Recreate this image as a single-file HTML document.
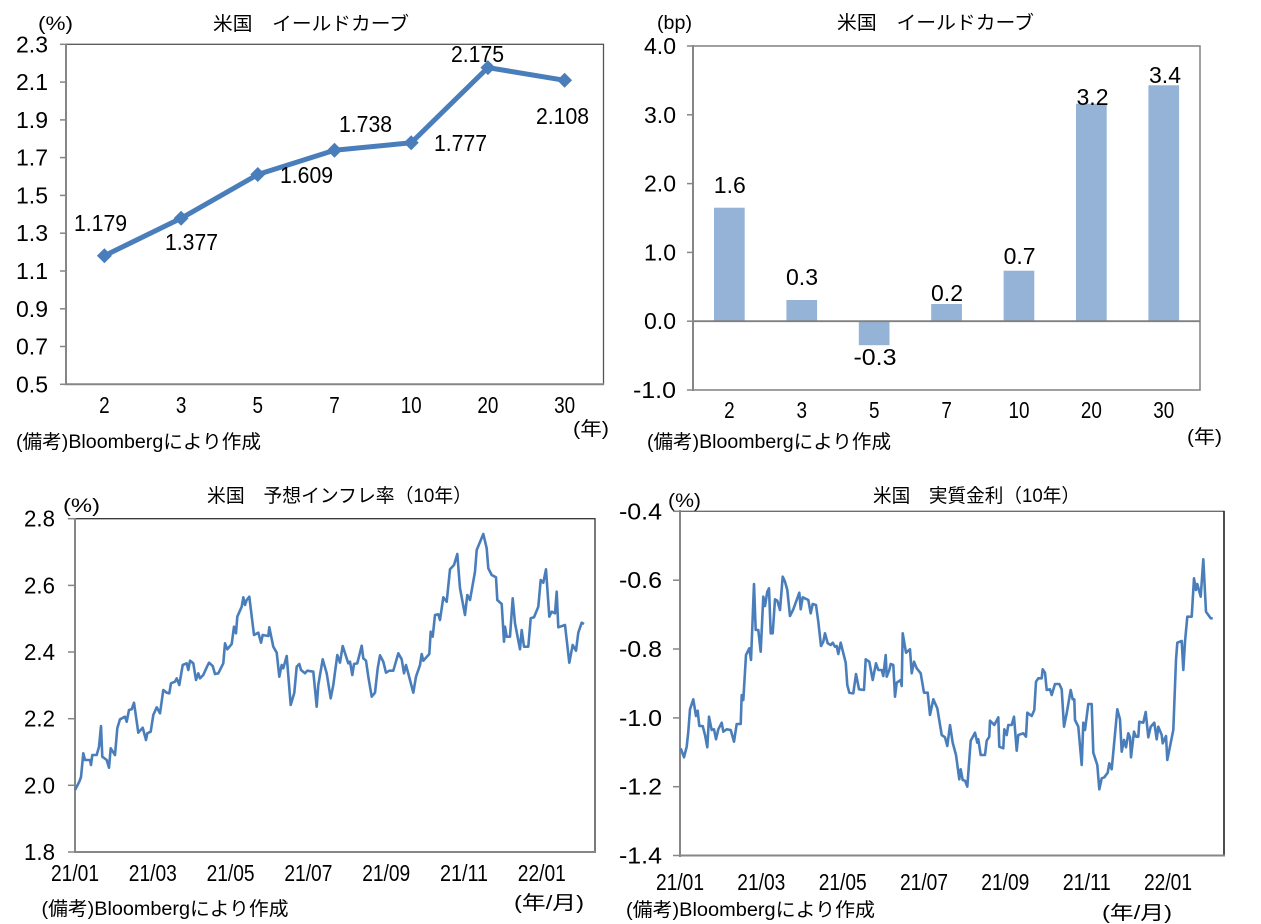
<!DOCTYPE html>
<html><head><meta charset="utf-8"><style>
html,body{margin:0;padding:0;background:#fff;}
svg{display:block;}
text{font-family:"Liberation Sans","Noto Sans CJK JP",sans-serif;fill:#000;}
.n{font-size:23px;}
.j{font-size:19px;}
.x{font-size:23px;}
</style></head><body>
<svg width="1261" height="924" viewBox="0 0 1261 924" xmlns="http://www.w3.org/2000/svg">
<rect width="1261" height="924" fill="#fff"/>

<!-- ===== Top-left: yield curve line ===== -->
<text class="j" x="213" y="30" textLength="196" lengthAdjust="spacingAndGlyphs">米国　イールドカーブ</text>
<text class="j" x="38" y="30" textLength="35" lengthAdjust="spacingAndGlyphs">(%)</text>
<rect x="66" y="44.3" width="537.5" height="340" fill="none" stroke="#555" stroke-width="1.3"/>
<line x1="66" y1="44" x2="66" y2="385" stroke="#868686" stroke-width="2"/>
<line x1="65" y1="384.3" x2="604" y2="384.3" stroke="#868686" stroke-width="2"/>
<g stroke="#868686" stroke-width="1.5">
<line x1="60" y1="44.3" x2="66" y2="44.3"/><line x1="60" y1="82.1" x2="66" y2="82.1"/><line x1="60" y1="119.9" x2="66" y2="119.9"/><line x1="60" y1="157.6" x2="66" y2="157.6"/><line x1="60" y1="195.4" x2="66" y2="195.4"/><line x1="60" y1="233.2" x2="66" y2="233.2"/><line x1="60" y1="271" x2="66" y2="271"/><line x1="60" y1="308.8" x2="66" y2="308.8"/><line x1="60" y1="346.5" x2="66" y2="346.5"/><line x1="60" y1="384.3" x2="66" y2="384.3"/>
</g>
<g class="n" text-anchor="end">
<text x="48" y="52.3" textLength="32" lengthAdjust="spacingAndGlyphs">2.3</text>
<text x="48" y="90.1" textLength="32" lengthAdjust="spacingAndGlyphs">2.1</text>
<text x="48" y="127.9" textLength="32" lengthAdjust="spacingAndGlyphs">1.9</text>
<text x="48" y="165.6" textLength="32" lengthAdjust="spacingAndGlyphs">1.7</text>
<text x="48" y="203.4" textLength="32" lengthAdjust="spacingAndGlyphs">1.5</text>
<text x="48" y="241.2" textLength="32" lengthAdjust="spacingAndGlyphs">1.3</text>
<text x="48" y="279" textLength="32" lengthAdjust="spacingAndGlyphs">1.1</text>
<text x="48" y="316.8" textLength="32" lengthAdjust="spacingAndGlyphs">0.9</text>
<text x="48" y="354.5" textLength="32" lengthAdjust="spacingAndGlyphs">0.7</text>
<text x="48" y="392.3" textLength="32" lengthAdjust="spacingAndGlyphs">0.5</text>
</g>
<g class="n" text-anchor="middle">
<text x="104.4" y="413" textLength="10.5" lengthAdjust="spacingAndGlyphs">2</text>
<text x="181.1" y="413" textLength="10.5" lengthAdjust="spacingAndGlyphs">3</text>
<text x="257.8" y="413" textLength="10.5" lengthAdjust="spacingAndGlyphs">5</text>
<text x="334.5" y="413" textLength="10.5" lengthAdjust="spacingAndGlyphs">7</text>
<text x="411.2" y="413" textLength="21" lengthAdjust="spacingAndGlyphs">10</text>
<text x="487.9" y="413" textLength="21" lengthAdjust="spacingAndGlyphs">20</text>
<text x="564.6" y="413" textLength="21" lengthAdjust="spacingAndGlyphs">30</text>
</g>
<text class="j" x="573" y="435" textLength="36" lengthAdjust="spacingAndGlyphs">(年)</text>
<text class="j" x="16" y="448" textLength="245" lengthAdjust="spacingAndGlyphs">(備考)Bloombergにより作成</text>
<polyline fill="none" stroke="#4A7EBB" stroke-width="5" stroke-linejoin="round" points="104.4,255.7 181.1,218.3 257.8,174.5 334.5,150.2 411.2,142.8 487.9,67.6 564.6,80.3"/>
<g fill="#4A7EBB">
<polygon points="104.4,248.2 111.9,255.7 104.4,263.2 96.9,255.7"/>
<polygon points="181.1,210.8 188.6,218.3 181.1,225.8 173.6,218.3"/>
<polygon points="257.8,167 265.3,174.5 257.8,182 250.3,174.5"/>
<polygon points="334.5,142.7 342,150.2 334.5,157.7 327,150.2"/>
<polygon points="411.2,135.3 418.7,142.8 411.2,150.3 403.7,142.8"/>
<polygon points="487.9,60.1 495.4,67.6 487.9,75.1 480.4,67.6"/>
<polygon points="564.6,72.8 572.1,80.3 564.6,87.8 557.1,80.3"/>
</g>
<g class="n">
<text x="74" y="231" textLength="53" lengthAdjust="spacingAndGlyphs">1.179</text>
<text x="165" y="250" textLength="53" lengthAdjust="spacingAndGlyphs">1.377</text>
<text x="280" y="183" textLength="53" lengthAdjust="spacingAndGlyphs">1.609</text>
<text x="339" y="132" textLength="53" lengthAdjust="spacingAndGlyphs">1.738</text>
<text x="434" y="151" textLength="53" lengthAdjust="spacingAndGlyphs">1.777</text>
<text x="451" y="62" textLength="53" lengthAdjust="spacingAndGlyphs">2.175</text>
<text x="536" y="124" textLength="53" lengthAdjust="spacingAndGlyphs">2.108</text>
</g>

<!-- ===== Top-right: bar chart ===== -->
<text class="j" x="837" y="29" textLength="197" lengthAdjust="spacingAndGlyphs">米国　イールドカーブ</text>
<text class="j" x="657" y="29" textLength="35" lengthAdjust="spacingAndGlyphs">(bp)</text>
<g fill="#95B3D7">
<rect x="714" y="207.7" width="30.7" height="113.5"/>
<rect x="786.4" y="300" width="30.7" height="21.2"/>
<rect x="858.8" y="321.2" width="30.7" height="24"/>
<rect x="931.2" y="304" width="30.7" height="17.2"/>
<rect x="1003.6" y="270.7" width="30.7" height="50.5"/>
<rect x="1076" y="103.7" width="30.7" height="217.5"/>
<rect x="1148.4" y="85.3" width="30.7" height="235.9"/>
</g>
<rect x="693" y="46" width="507" height="344" fill="none" stroke="#808080" stroke-width="1.5"/>
<line x1="693" y1="321.2" x2="1200" y2="321.2" stroke="#808080" stroke-width="1.8"/>
<line x1="693" y1="45" x2="693" y2="391" stroke="#868686" stroke-width="2"/>
<g stroke="#868686" stroke-width="1.5">
<line x1="687" y1="46" x2="693" y2="46"/><line x1="687" y1="114.8" x2="693" y2="114.8"/><line x1="687" y1="183.6" x2="693" y2="183.6"/><line x1="687" y1="252.4" x2="693" y2="252.4"/><line x1="687" y1="321.2" x2="693" y2="321.2"/><line x1="687" y1="390" x2="693" y2="390"/>
</g>
<g class="n" text-anchor="end">
<text x="676" y="54" textLength="32" lengthAdjust="spacingAndGlyphs">4.0</text>
<text x="676" y="122.8" textLength="32" lengthAdjust="spacingAndGlyphs">3.0</text>
<text x="676" y="191.6" textLength="32" lengthAdjust="spacingAndGlyphs">2.0</text>
<text x="676" y="260.4" textLength="32" lengthAdjust="spacingAndGlyphs">1.0</text>
<text x="676" y="329.2" textLength="32" lengthAdjust="spacingAndGlyphs">0.0</text>
<text x="676" y="398" textLength="43" lengthAdjust="spacingAndGlyphs">-1.0</text>
</g>
<g class="n" text-anchor="middle">
<text x="729.4" y="418" textLength="10.5" lengthAdjust="spacingAndGlyphs">2</text>
<text x="801.8" y="418" textLength="10.5" lengthAdjust="spacingAndGlyphs">3</text>
<text x="874.2" y="418" textLength="10.5" lengthAdjust="spacingAndGlyphs">5</text>
<text x="946.6" y="418" textLength="10.5" lengthAdjust="spacingAndGlyphs">7</text>
<text x="1019" y="418" textLength="21" lengthAdjust="spacingAndGlyphs">10</text>
<text x="1091.4" y="418" textLength="21" lengthAdjust="spacingAndGlyphs">20</text>
<text x="1163.8" y="418" textLength="21" lengthAdjust="spacingAndGlyphs">30</text>
</g>
<g class="n" text-anchor="middle">
<text x="729.8" y="193" textLength="32" lengthAdjust="spacingAndGlyphs">1.6</text>
<text x="802" y="285" textLength="32" lengthAdjust="spacingAndGlyphs">0.3</text>
<text x="875" y="365" textLength="43" lengthAdjust="spacingAndGlyphs">-0.3</text>
<text x="947" y="301" textLength="32" lengthAdjust="spacingAndGlyphs">0.2</text>
<text x="1019.6" y="264" textLength="32" lengthAdjust="spacingAndGlyphs">0.7</text>
<text x="1092.5" y="105" textLength="32" lengthAdjust="spacingAndGlyphs">3.2</text>
<text x="1165" y="83" textLength="32" lengthAdjust="spacingAndGlyphs">3.4</text>
</g>
<text class="j" x="1187" y="443" textLength="35" lengthAdjust="spacingAndGlyphs">(年)</text>
<text class="j" x="647" y="448" textLength="244" lengthAdjust="spacingAndGlyphs">(備考)Bloombergにより作成</text>

<!-- ===== Bottom-left: inflation expectations ===== -->
<text class="j" x="207" y="502" textLength="265" lengthAdjust="spacingAndGlyphs">米国　予想インフレ率（10年）</text>
<text class="j" x="63" y="512" textLength="37" lengthAdjust="spacingAndGlyphs">(%)</text>
<rect x="75" y="518.7" width="520" height="333.3" fill="none" stroke="#333" stroke-width="1.3"/>
<line x1="75" y1="518" x2="75" y2="853" stroke="#868686" stroke-width="2"/>
<line x1="74" y1="852" x2="596" y2="852" stroke="#868686" stroke-width="2"/>
<g stroke="#868686" stroke-width="1.5">
<line x1="68" y1="518.7" x2="75" y2="518.7"/><line x1="68" y1="585.4" x2="75" y2="585.4"/><line x1="68" y1="652" x2="75" y2="652"/><line x1="68" y1="718.7" x2="75" y2="718.7"/><line x1="68" y1="785.3" x2="75" y2="785.3"/><line x1="68" y1="852" x2="75" y2="852"/>
</g>
<g class="n" text-anchor="end">
<text x="55" y="526.7" textLength="31" lengthAdjust="spacingAndGlyphs">2.8</text>
<text x="55" y="593.4" textLength="31" lengthAdjust="spacingAndGlyphs">2.6</text>
<text x="55" y="660" textLength="31" lengthAdjust="spacingAndGlyphs">2.4</text>
<text x="55" y="726.7" textLength="31" lengthAdjust="spacingAndGlyphs">2.2</text>
<text x="55" y="793.3" textLength="31" lengthAdjust="spacingAndGlyphs">2.0</text>
<text x="55" y="860" textLength="31" lengthAdjust="spacingAndGlyphs">1.8</text>
</g>
<g class="x" text-anchor="middle">
<text x="75" y="881" textLength="48" lengthAdjust="spacingAndGlyphs">21/01</text>
<text x="152.8" y="881" textLength="48" lengthAdjust="spacingAndGlyphs">21/03</text>
<text x="230.6" y="881" textLength="48" lengthAdjust="spacingAndGlyphs">21/05</text>
<text x="308.4" y="881" textLength="48" lengthAdjust="spacingAndGlyphs">21/07</text>
<text x="386.2" y="881" textLength="48" lengthAdjust="spacingAndGlyphs">21/09</text>
<text x="464" y="881" textLength="48" lengthAdjust="spacingAndGlyphs">21/11</text>
<text x="541.8" y="881" textLength="48" lengthAdjust="spacingAndGlyphs">22/01</text>
</g>
<text class="j" x="514" y="909" textLength="70" lengthAdjust="spacingAndGlyphs">(年/月)</text>
<text class="j" x="41.5" y="915" textLength="247" lengthAdjust="spacingAndGlyphs">(備考)Bloombergにより作成</text>
<polyline fill="none" stroke="#4A7EBB" stroke-width="2.6" stroke-linejoin="round" points="75,790 79.3,781.7 81,777 83.3,753.3 85,760 90,760 91,765 92.3,755 96.7,755 99,746.7 101,726 102.3,756.7 106.7,760 109,767.7 110.7,748.3 115,755 117.3,728.3 120,719.3 125,716.7 126.7,721.7 129,710 131.7,709.3 134,702.7 138.3,732.7 142.7,727.7 146,740 147.3,733.3 150.7,731.7 153.3,715 156.7,707.3 160,713.3 163.3,690 166.7,692.7 169.3,693.3 171,683.3 175,681.7 176.7,678.3 179.3,685 182.7,665 186.7,663.3 188.3,670 190,660.7 193.3,663.3 196,680 198.3,673.3 200,678.3 203.3,675 206.7,667.3 209,662.7 212.7,666 215,674 218.3,673.3 223.3,663.3 225,643.3 227.3,649.3 231.7,644 234,626.7 236,633.3 237.3,616.7 241.7,606.7 243.3,597.3 245,605 246.7,600 249.3,596.7 254,635 258.3,632.7 261,642.7 262.7,635 268.3,636 269.3,627.3 273.3,646.7 276.7,652.7 279.3,676.7 281.7,665 283.3,668.3 286.7,656 290.7,705 294.3,692.7 296.7,666.7 299.3,664 301,670 305,673.3 307.3,670.7 313.3,671.7 316.7,706.7 318.3,685 322.7,659.3 326.7,673.3 330.7,698.3 333.3,685 337.3,655 340,662.7 342.7,646 348.3,663.3 350,661.7 352.3,675 354,664 357.3,663.3 361.7,645.7 363.3,658.3 366,660.7 368.3,676.7 371.7,696.7 375,692.7 377.7,668.3 380,655.3 383.3,661.7 386,672.7 389.3,670.7 393.3,670.7 398.3,653.3 401.7,659.3 404,673.3 406,665 410,680 413.3,692.7 416,676.7 420,665 421.7,654 423.3,660.7 429.3,654 430.7,631.7 432.7,636.7 435,615 438.3,614.3 440,620 441.7,608.3 443.3,597.3 446.7,601.7 450,569.3 454,565 457.3,554 460,588.3 465,615 467.3,595 470,600 475,571.7 476.7,550 483.3,534 486.7,548.3 488.3,568.3 491.7,575 496,577.3 497.3,600 501.7,604 504,641.7 505,626.7 506.7,636.7 510,636.7 512.7,598.3 515,623.3 520,649.3 521.7,630 524,646.7 528.3,646.7 530.7,618.3 534,617.3 538.3,606.7 540.7,580 543.3,582.7 546,569.3 549.3,616.7 551.7,611.7 555,613.3 556.7,591.7 558.3,627.3 565,625 569.3,662.7 572.7,645 576,650.7 578.3,632.7 581.7,622.7 584,624"/>

<!-- ===== Bottom-right: real rate ===== -->
<text class="j" x="873" y="502" textLength="207" lengthAdjust="spacingAndGlyphs">米国　実質金利（10年）</text>
<text class="j" x="668" y="507" textLength="33" lengthAdjust="spacingAndGlyphs">(%)</text>
<rect x="680" y="511.3" width="544" height="344.2" fill="none" stroke="#666" stroke-width="1.3"/>
<line x1="1224" y1="511" x2="1224" y2="856" stroke="#222" stroke-width="1.5"/>
<line x1="680" y1="510" x2="680" y2="857" stroke="#868686" stroke-width="2"/>
<line x1="679" y1="855.5" x2="1225" y2="855.5" stroke="#868686" stroke-width="2"/>
<g stroke="#868686" stroke-width="1.5">
<line x1="673" y1="511.3" x2="680" y2="511.3"/><line x1="673" y1="580.2" x2="680" y2="580.2"/><line x1="673" y1="649" x2="680" y2="649"/><line x1="673" y1="717.9" x2="680" y2="717.9"/><line x1="673" y1="786.7" x2="680" y2="786.7"/><line x1="673" y1="855.5" x2="680" y2="855.5"/>
</g>
<g class="n" text-anchor="end">
<text x="662" y="519.3" textLength="43" lengthAdjust="spacingAndGlyphs">-0.4</text>
<text x="662" y="588.2" textLength="43" lengthAdjust="spacingAndGlyphs">-0.6</text>
<text x="662" y="657" textLength="43" lengthAdjust="spacingAndGlyphs">-0.8</text>
<text x="662" y="725.9" textLength="43" lengthAdjust="spacingAndGlyphs">-1.0</text>
<text x="662" y="794.7" textLength="43" lengthAdjust="spacingAndGlyphs">-1.2</text>
<text x="662" y="863.5" textLength="43" lengthAdjust="spacingAndGlyphs">-1.4</text>
</g>
<g class="x" text-anchor="middle">
<text x="680" y="890" textLength="48" lengthAdjust="spacingAndGlyphs">21/01</text>
<text x="761.3" y="890" textLength="48" lengthAdjust="spacingAndGlyphs">21/03</text>
<text x="842.7" y="890" textLength="48" lengthAdjust="spacingAndGlyphs">21/05</text>
<text x="924" y="890" textLength="48" lengthAdjust="spacingAndGlyphs">21/07</text>
<text x="1005.3" y="890" textLength="48" lengthAdjust="spacingAndGlyphs">21/09</text>
<text x="1086.7" y="890" textLength="48" lengthAdjust="spacingAndGlyphs">21/11</text>
<text x="1168" y="890" textLength="48" lengthAdjust="spacingAndGlyphs">22/01</text>
</g>
<text class="j" x="1102" y="919" textLength="70" lengthAdjust="spacingAndGlyphs">(年/月)</text>
<text class="j" x="626" y="916" textLength="249" lengthAdjust="spacingAndGlyphs">(備考)Bloombergにより作成</text>
<polyline fill="none" stroke="#4A7EBB" stroke-width="2.6" stroke-linejoin="round" points="680.7,748.3 684,757.3 686.7,746.7 688.3,731.7 690,709.3 693.3,699.3 696,716 697.7,710.7 699.3,726 702.7,726 705,735 707.3,747.3 709,716.7 711.7,730 714,729.3 716,739.3 718.3,729.3 721.7,722.7 723.3,731.7 726.7,729.3 730.7,730 734,741.7 736.7,724 740.7,724 741.7,695 743.3,700 746,655 749.3,648.3 751,660 754,584 755.7,630 758.3,630 760.7,651.7 763.3,596.7 765,606 767.3,591.7 769,588.3 770.7,633.3 772.7,633.3 775,599.3 777.3,600.7 780,610 782.7,576.7 785,581.7 787.3,590 790,616 793.3,609.3 799.3,592.7 800.7,609.3 802.7,597.3 808.3,600 810.7,613.3 812.7,604 816,605 818.3,621.7 821,646 823.3,641.7 825,633.3 827.7,643.3 830.7,645 832.7,642.7 835,646.7 836.7,646 838.3,654 840.7,642.7 845.7,662.7 847.3,685 849.3,692.7 853.3,693.3 856,674 859,689.3 864,690 865.7,659.3 869.3,661.7 872.7,680 876,663.3 878.3,670 881.7,670 883.3,676 885.7,655 886.7,676.7 889.3,670 890.7,664 893.3,665 895,696.7 896.7,682.7 900.7,680 901.7,686 902.7,633.3 906,652.7 910,649.3 911.7,673.3 914,661.7 916.7,668.3 920.7,673.3 924,692.7 927.7,692.7 930,715 933.3,699.3 937.3,708.3 941.7,735 945,737.3 947.3,746 950,725 952.7,742.7 956,755 959.3,779.3 960.7,769.3 962.7,780 965,780.7 967.3,786.7 970.7,740.7 975,732.7 977.3,742.7 978.3,739.3 980.7,755 985,755 986.7,740.7 989.3,736.7 990,720.7 994.3,725 998.3,717.3 999.3,746.7 1003.3,748.3 1004.3,729.3 1006.7,735 1008.3,725 1011.7,725 1014,716.7 1016.7,750.7 1018.3,735 1023.3,733.3 1026,736.7 1027.3,712.7 1031.7,716 1034.3,710 1036,681.7 1038.3,678.3 1041.7,678.3 1042.7,669.3 1045,672.7 1046.7,690 1050,689.3 1051.7,695 1055,684 1059.3,684 1061.7,689.3 1064,726.7 1066.7,713.3 1070.7,690 1072.7,699.3 1074.3,699.3 1075,720 1078.3,726.7 1081.7,765 1083.3,722.7 1085,730 1088.3,704 1091.7,704 1093.3,752.7 1097.3,765 1099.3,789.3 1101.7,778.3 1104.3,777.3 1107.7,772.7 1109.3,763.3 1111.7,769.3 1117.3,709.3 1120,719.3 1121.7,751.7 1124,740 1126,747.3 1128.3,733.3 1130,737.3 1131,757.3 1134,731.7 1136,736.7 1138.3,736.7 1139.3,721.7 1143.3,722.7 1145.7,712 1148.3,737.3 1150.7,726.7 1154.3,722.7 1156.7,739.3 1158.3,726.7 1161.7,735 1162.7,743.3 1166,736 1167.3,760 1173.3,730 1176,660 1177.3,642.7 1181.7,641 1183.3,670 1185,641.7 1187.3,616.7 1191.7,616.7 1194,578.3 1196,590 1197.3,584 1200.7,596.7 1203.3,559.3 1206,611.7 1210.7,618.3 1212.7,618.3"/>
</svg>
</body></html>
